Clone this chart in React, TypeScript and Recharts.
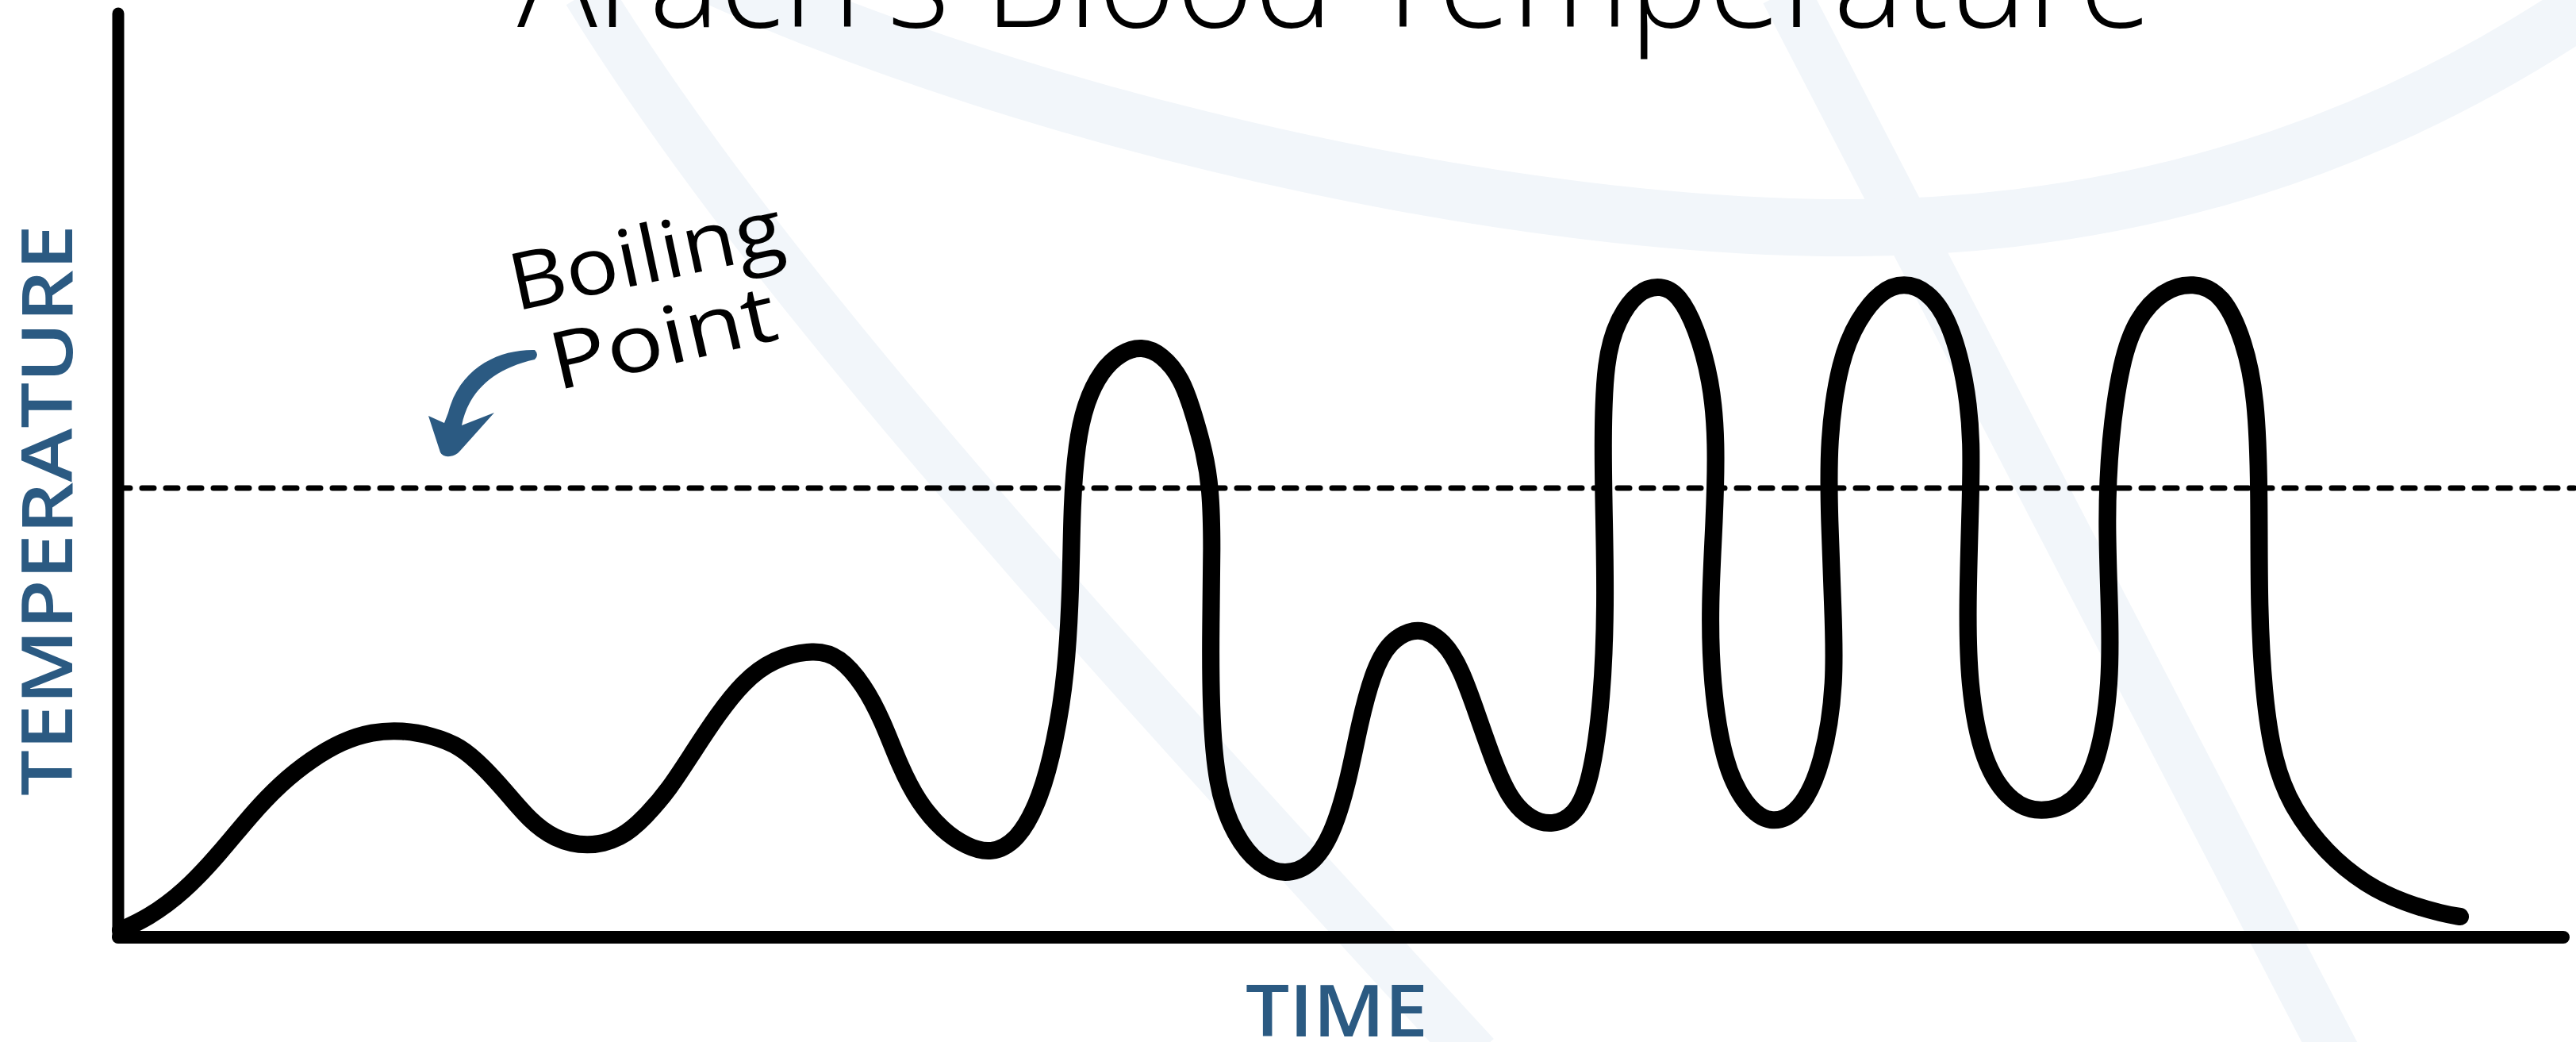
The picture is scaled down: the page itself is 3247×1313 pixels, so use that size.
import { LineChart, Line, XAxis, YAxis, ReferenceLine } from "recharts";

// readings: time and blood temperature (arbitrary units, no ticks shown)
const TIME = [
  3, 37, 83, 129, 167, 205, 243, 282, 320, 358, 396, 431, 461, 488, 519, 549, 591, 634, 664, 695,
  725, 756, 787, 825, 878, 909, 940, 963, 986, 1008, 1039, 1070, 1100, 1134, 1163, 1181, 1195, 1201, 1202, 1208,
  1219, 1239, 1264, 1290, 1315, 1341, 1356, 1369, 1377, 1379, 1377, 1377, 1384, 1407, 1438, 1471, 1504, 1530, 1550, 1565,
  1581, 1601, 1639, 1672, 1693, 1713, 1734, 1754, 1780, 1808, 1836, 1856, 1871, 1875, 1873, 1871, 1874, 1890, 1916, 1945,
  1967, 1989, 2008, 2015, 2012, 2006, 2008, 2024, 2050, 2082, 2120, 2149, 2165, 2161, 2157, 2155, 2170, 2193, 2222, 2251,
  2280, 2308, 2329, 2337, 2334, 2331, 2332, 2350, 2388, 2423, 2465, 2496, 2512, 2510, 2506, 2510, 2525, 2544, 2576, 2616,
  2653, 2680, 2695, 2699, 2698, 2704, 2717, 2740, 2783, 2833, 2882, 2932, 2952,
];
const TEMP = [
  9, 24, 57, 107, 154, 194, 224, 247, 259, 261, 254, 241, 214, 184, 147, 124, 113, 124, 151, 187,
  234, 281, 321, 351, 363, 354, 318, 274, 214, 171, 134, 114, 105, 121, 176, 246, 331, 444, 546, 622,
  673, 714, 737, 745, 735, 704, 658, 612, 566, 495, 393, 291, 189, 128, 90, 78, 90, 128, 194, 271,
  332, 373, 393, 373, 337, 281, 220, 174, 148, 141, 153, 194, 301, 422, 524, 626, 728, 779, 815, 822,
  810, 769, 702, 626, 524, 422, 320, 218, 167, 141, 157, 218, 320, 422, 524, 626, 728, 779, 815, 825,
  815, 779, 702, 626, 524, 422, 320, 218, 167, 157, 167, 218, 320, 422, 524, 626, 728, 779, 815, 826,
  811, 751, 681, 565, 422, 307, 221, 163, 106, 66, 43, 29, 26,
];
const BOILING_POINT = 566;
const TIME_MAX = 3082;
const TEMP_MAX = 1164;

const W = 3247;
const H = 1313;
const BLUE = "#2b5a82";
const WATERMARK = "#f2f6fa";

const data = TIME.map((t, i) => ({ t, temp: TEMP[i] }));

export default function App() {
  return (
    <div style={{ position: "absolute", left: 0, top: 0, width: W, height: H, background: "#fff", overflow: "hidden" }}>
      {/* faint logo watermark behind the chart */}
      <svg width={W} height={H} style={{ position: "absolute", left: 0, top: 0 }}>
        <g fill="none" stroke={WATERMARK} strokeLinecap="butt">
          <path d="M 740 -10 C 950 330, 1300 720, 1860 1330" strokeWidth={62} />
          <path d="M 2250 -10 L 2945 1330" strokeWidth={62} />
          <path d="M 900 -30 C 1300 150, 1900 290, 2340 287 C 2750 284, 3050 150, 3270 0" strokeWidth={72} />
        </g>
      </svg>

      <div style={{ position: "absolute", left: 0, top: 0 }}>
        <LineChart width={W} height={H} data={data} margin={{ top: 17, right: 16, bottom: 132, left: 149 }}>
          <XAxis type="number" dataKey="t" domain={[0, TIME_MAX]} hide />
          <YAxis type="number" domain={[0, TEMP_MAX]} hide />
          {/* hand-drawn style axes */}
          <ReferenceLine x={0} stroke="#000" strokeWidth={15} strokeLinecap="round" />
          <ReferenceLine y={0} stroke="#000" strokeWidth={16} strokeLinecap="round" />
          <ReferenceLine
            segment={[{ x: 0, y: BOILING_POINT }, { x: TIME_MAX + 14, y: BOILING_POINT }]}
            ifOverflow="visible"
            stroke="#000"
            strokeWidth={7}
            strokeDasharray="15 15"
            strokeLinecap="round"
          />
          <Line
            type="basis"
            dataKey="temp"
            stroke="#000"
            strokeWidth={22}
            strokeLinecap="round"
            strokeLinejoin="round"
            dot={false}
            activeDot={false}
            isAnimationActive={false}
          />
        </LineChart>
      </div>

      {/* titles and hand-written note */}
      <svg width={W} height={H} style={{ position: "absolute", left: 0, top: 0, pointerEvents: "none" }}>
        <text
          x={652}
          y={34}
          fontFamily="Open Sans"
          fontWeight={300}
          fontSize={170}
          fill="#000"
          textLength={2061}
          lengthAdjust="spacingAndGlyphs"
        >
          Arach's Blood Temperature
        </text>
        <text
          x={91}
          y={643}
          transform="rotate(-90 91 643)"
          textAnchor="middle"
          fontFamily="Open Sans"
          fontWeight={600}
          fontSize={89}
          fill={BLUE}
          textLength={720}
          lengthAdjust="spacingAndGlyphs"
        >
          TEMPERATURE
        </text>
        <text
          x={1685}
          y={1306}
          textAnchor="middle"
          fontFamily="Open Sans"
          fontWeight={600}
          fontSize={90}
          fill={BLUE}
          textLength={230}
          lengthAdjust="spacingAndGlyphs"
        >
          TIME
        </text>
        <text
          x={650}
          y={392}
          transform="rotate(-12 650 392)"
          fontFamily="Open Sans"
          fontWeight={400}
          fontSize={100}
          fill="#000"
          textLength={350}
          lengthAdjust="spacingAndGlyphs"
        >
          Boiling
        </text>
        <text
          x={702}
          y={492}
          transform="rotate(-13 702 492)"
          fontFamily="Open Sans"
          fontWeight={400}
          fontSize={100}
          fill="#000"
          textLength={290}
          lengthAdjust="spacingAndGlyphs"
        >
          Point
        </text>
        <path
          d="M 674 441 C 630 440, 580 462, 565 520 L 560 533 L 540 524 L 555 570 Q 558 576 567 575 Q 575 574 580 568 L 623 520 L 582 536 C 590 495, 620 465, 674 453 Q 680 447 674 441 Z"
          fill={BLUE}
        />
      </svg>
    </div>
  );
}
